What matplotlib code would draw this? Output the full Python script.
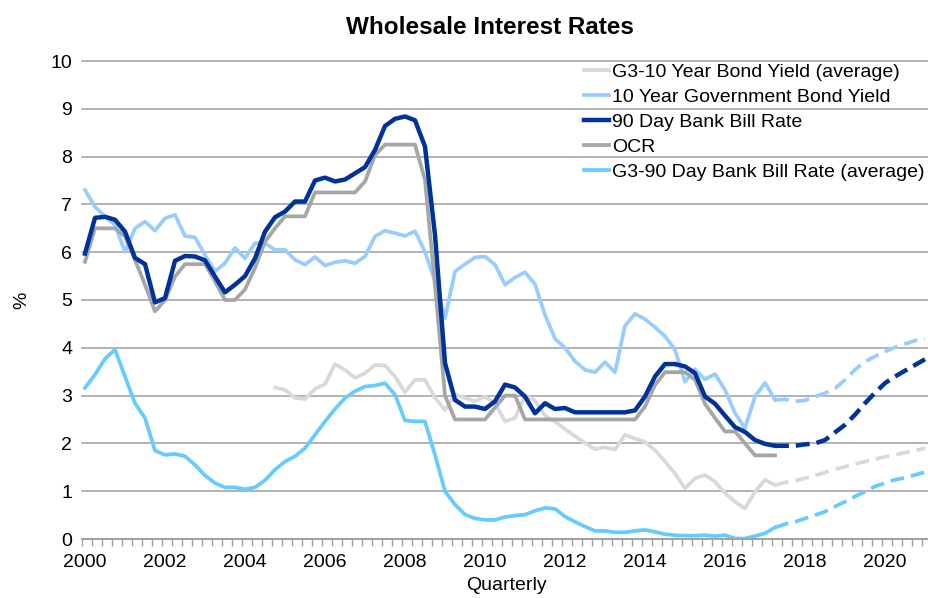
import numpy as np
import matplotlib
matplotlib.use("Agg")
import matplotlib.pyplot as plt

plt.rcParams['font.family'] = ['Liberation Sans', 'DejaVu Sans']
plt.rcParams['lines.scale_dashes'] = False

# Quarterly time index: 2000Q1 .. 2021Q1
t_start = 2000.0
step = 0.25

ninety_day = [5.97, 6.72, 6.74, 6.68, 6.43, 5.88, 5.75, 4.95, 5.04, 5.82,
              5.92, 5.91, 5.83, 5.49, 5.16, 5.32, 5.50, 5.87, 6.43, 6.73,
              6.85, 7.06, 7.06, 7.50, 7.56, 7.48, 7.52, 7.65, 7.78, 8.14,
              8.64, 8.79, 8.84, 8.76, 8.21, 6.36, 3.68, 2.91, 2.77, 2.77,
              2.72, 2.88, 3.23, 3.17, 2.98, 2.63, 2.84, 2.72, 2.74, 2.65,
              2.65, 2.65, 2.65, 2.65, 2.65, 2.69, 2.98, 3.40, 3.66, 3.66,
              3.61, 3.47, 2.98, 2.83, 2.58, 2.34, 2.24, 2.07, 1.99, 1.95]
ninety_day_fc = [1.95, 1.95, 1.95, 1.98, 2.00, 2.07, 2.23, 2.39, 2.60, 2.84,
                 3.06, 3.26, 3.40, 3.52, 3.64, 3.76]

ocr = [5.80, 6.50, 6.50, 6.50, 6.33, 5.84, 5.32, 4.76, 5.00, 5.49,
       5.75, 5.75, 5.75, 5.39, 5.00, 5.00, 5.22, 5.67, 6.22, 6.50,
       6.75, 6.75, 6.75, 7.25, 7.25, 7.25, 7.25, 7.25, 7.48, 8.03,
       8.25, 8.25, 8.25, 8.25, 7.51, 5.30, 3.00, 2.50, 2.50, 2.50,
       2.50, 2.75, 3.00, 3.00, 2.50, 2.50, 2.50, 2.50, 2.50, 2.50,
       2.50, 2.50, 2.50, 2.50, 2.50, 2.50, 2.77, 3.22, 3.49, 3.49,
       3.49, 3.33, 2.83, 2.53, 2.25, 2.25, 2.00, 1.75, 1.75, 1.75]

ten_year = [7.30, 6.95, 6.75, 6.57, 6.01, 6.50, 6.64, 6.45, 6.71, 6.78,
            6.34, 6.31, 5.94, 5.60, 5.77, 6.09, 5.87, 6.19, 6.19, 6.05,
            6.05, 5.84, 5.74, 5.90, 5.72, 5.79, 5.82, 5.77, 5.91, 6.33,
            6.45, 6.40, 6.34, 6.44, 6.01, 5.39, 4.62, 5.60, 5.75, 5.89,
            5.91, 5.74, 5.32, 5.47, 5.58, 5.33, 4.69, 4.19, 4.00, 3.72,
            3.54, 3.49, 3.70, 3.49, 4.46, 4.71, 4.60, 4.43, 4.24, 3.96,
            3.29, 3.55, 3.34, 3.45, 3.12, 2.63, 2.32, 2.98, 3.27, 2.91]
ten_year_fc = [2.91, 2.92, 2.88, 2.90, 2.98, 3.05, 3.15, 3.33, 3.54, 3.71,
               3.82, 3.92, 4.01, 4.08, 4.15, 4.19]

# G3 10 year starts 2004Q4 (index 19)
g3_10_start = 19
g3_10 = [3.17, 3.12, 2.95, 2.93, 3.14, 3.24, 3.66, 3.54, 3.37, 3.47,
         3.64, 3.63, 3.40, 3.07, 3.33, 3.33, 2.95, 2.70, 3.02, 2.95,
         2.88, 2.98, 2.84, 2.46, 2.53, 3.00, 2.90, 2.58, 2.46, 2.30,
         2.15, 2.01, 1.88, 1.92, 1.87, 2.18, 2.10, 2.03, 1.86, 1.62,
         1.37, 1.06, 1.27, 1.34, 1.20, 0.96, 0.78, 0.64, 0.99, 1.24,
         1.13]
g3_10_fc = [1.13, 1.18, 1.22, 1.27, 1.33, 1.39, 1.46, 1.51, 1.57, 1.62,
            1.67, 1.72, 1.76, 1.81, 1.85, 1.90]

g3_90 = [3.16, 3.44, 3.77, 3.96, 3.40, 2.84, 2.53, 1.85, 1.76, 1.78,
         1.73, 1.55, 1.33, 1.17, 1.08, 1.08, 1.04, 1.08, 1.23, 1.45,
         1.62, 1.73, 1.90, 2.18, 2.46, 2.72, 2.95, 3.09, 3.19, 3.21,
         3.26, 3.02, 2.48, 2.46, 2.46, 1.76, 1.00, 0.72, 0.51, 0.43,
         0.40, 0.40, 0.46, 0.49, 0.51, 0.59, 0.65, 0.63, 0.47, 0.36,
         0.26, 0.17, 0.17, 0.14, 0.14, 0.17, 0.19, 0.15, 0.10, 0.08,
         0.07, 0.07, 0.08, 0.06, 0.08, 0.01, 0.01, 0.06, 0.12, 0.24]
g3_90_fc = [0.24, 0.31, 0.36, 0.43, 0.50, 0.57, 0.68, 0.78, 0.89, 0.99,
            1.10, 1.17, 1.24, 1.28, 1.34, 1.40]

labels = ["G3-10 Year Bond Yield (average)", "10 Year Government Bond Yield",
          "90 Day Bank Bill Rate", "OCR", "G3-90 Day Bank Bill Rate (average)"]
year_ticks = list(range(2000, 2021, 2))
y_ticks = list(range(0, 11))

fc_start = 69  # forecasts start at 2017Q2


def tq(start, n):
    return t_start + step * (start + np.arange(n))


c_g310 = '#d9d9d9'
c_10y = '#99ccff'
c_90 = '#003399'
c_ocr = '#a6a6a6'
c_g390 = '#66ccff'

fig = plt.figure(figsize=(9.29, 5.98), dpi=100)
ax = fig.add_axes([82 / 929, 59 / 598, 847 / 929, 478 / 598])

lw = 2.7
lw90 = 3.2
dash = (10, 5)
kw = dict(solid_joinstyle='round', dash_joinstyle='round')

h1, = ax.plot(tq(g3_10_start, len(g3_10)), g3_10, color=c_g310, lw=lw, **kw)
ax.plot(tq(fc_start, len(g3_10_fc)), g3_10_fc, color=c_g310, lw=lw, dashes=dash, **kw)
h2, = ax.plot(tq(0, len(ten_year)), ten_year, color=c_10y, lw=lw, **kw)
ax.plot(tq(fc_start, len(ten_year_fc)), ten_year_fc, color=c_10y, lw=lw, dashes=dash, **kw)
h4, = ax.plot(tq(0, len(ocr)), ocr, color=c_ocr, lw=lw, **kw)
h3, = ax.plot(tq(0, len(ninety_day)), ninety_day, color=c_90, lw=lw90, **kw)
ax.plot(tq(fc_start, len(ninety_day_fc)), ninety_day_fc, color=c_90, lw=lw90, dashes=dash, **kw)
h5, = ax.plot(tq(0, len(g3_90)), g3_90, color=c_g390, lw=lw, **kw)
ax.plot(tq(fc_start, len(g3_90_fc)), g3_90_fc, color=c_g390, lw=lw, dashes=dash, **kw)

ax.set_xlim(1999.925, 2021.1)
ax.set_ylim(0, 10)

for s in ['top', 'right', 'left']:
    ax.spines[s].set_visible(False)
ax.spines['bottom'].set_color('#a0a0a0')
ax.spines['bottom'].set_linewidth(1.2)

ax.set_yticks(y_ticks)
ax.set_yticklabels([str(v) for v in y_ticks])
ax.set_xticks(year_ticks)
ax.set_xticklabels([str(v) for v in year_ticks])
ax.set_xticks(1999.925 + 0.25 * np.arange(85), minor=True)
ax.tick_params(axis='x', which='major', length=0, pad=11, labelsize=14)
ax.tick_params(axis='x', which='minor', length=5, width=1, color='#a0a0a0', direction='out')
ax.tick_params(axis='y', length=0, pad=7, labelsize=14)

ax.yaxis.grid(True, color='#a6a6a6', lw=1.2)
ax.set_axisbelow(True)
for gl in ax.get_ygridlines():
    gl.set_clip_on(False)

fig.text(22 / 929, 1 - 300 / 598, '%', fontsize=14, ha='center', va='center', rotation=90)
fig.text(506 / 929, 1 - 585 / 598, 'Quarterly', fontsize=14, ha='center', va='center')
fig.text(490 / 929, 1 - 28 / 598, 'Wholesale Interest Rates', fontsize=17.5,
         fontweight='bold', ha='center', va='center')

leg = fig.legend([h1, h2, h3, h4, h5], labels, loc='upper left',
                 bbox_to_anchor=(584 / 929, 1 - 63 / 598), frameon=False,
                 fontsize=14, handlelength=1.3, handletextpad=0.15,
                 labelspacing=0.38, borderpad=0, borderaxespad=0)

fig.savefig('out.png', dpi=100)
